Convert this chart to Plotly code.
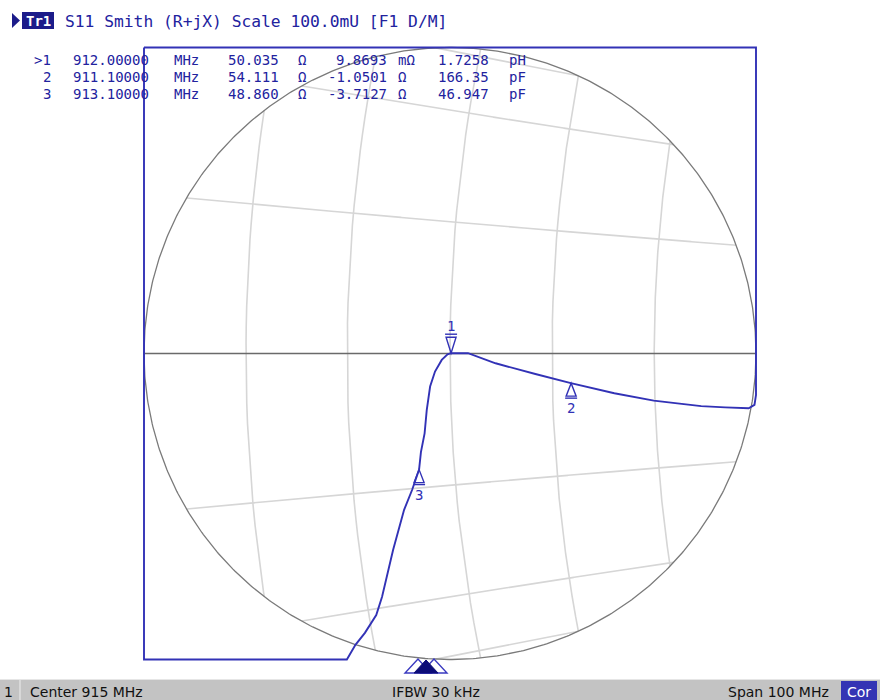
import numpy as np
import plotly.graph_objects as go

# ---------------- data ----------------
trace_re = [-0.30, 0.30, 0.26, 0.16, 0.112, 0.0995, 0.0976, 0.0899, 0.0821, 0.0743, 0.0666,
            0.0537, 0.0395, 0.0279, 0.0149, 0.0059, 0.0003, -0.0008, -0.0027, -0.0049,
            -0.0065, -0.0076, -0.0083, -0.0095, -0.0101, -0.0124, -0.0150, -0.0186,
            -0.0222, -0.0241, -0.0278, -0.0309, -0.0337, -0.15, -0.45, -0.45]
trace_im = [0.50, 0.45, 0.06, -0.004, -0.0135, -0.0168, -0.0179, -0.0176, -0.0172, -0.0163,
            -0.0154, -0.0130, -0.0097, -0.0067, -0.0032, 0.0001, 0.0001, -0.0003, -0.0021,
            -0.0059, -0.0108, -0.0185, -0.0261, -0.0322, -0.0379, -0.0446, -0.0511,
            -0.0642, -0.0795, -0.0855, -0.0913, -0.0952, -0.1007, -0.25, -0.20, 0.30]

# markers
marker_ids = [">1", "2", "3"]
marker_nums = ["1", "2", "3"]
marker_freq = ["912.00000", "911.10000", "913.10000"]
marker_R_txt = ["50.035", "54.111", "48.860"]
marker_X_txt = ["9.8693", "-1.0501", "-3.7127"]
marker_X_unit = ["mΩ", "Ω", "Ω"]
marker_LC_txt = ["1.7258", "166.35", "46.947"]
marker_LC_unit = ["pH", "pF", "pF"]
marker_R_ohm = [50.035, 54.111, 48.860]
marker_X_ohm = [0.0098693, -1.0501, -3.7127]
Z0 = 50.0

# smith grid (normalised resistance / reactance circles)
grid_r = [0.875, 0.935, 1.0, 1.069, 1.143]
grid_x = [0.086, 0.158, 0.196, -0.086, -0.158, -0.196]
scale_U = 0.1  # 100.0 mU full radius

header_text = "S11 Smith (R+jX) Scale 100.0mU [F1 D/M]"
status_texts = ["Center 915 MHz", "IFBW 30 kHz", "Span 100 MHz"]

# ---------------- geometry ----------------
W, H = 880, 700
PL, PR, PT, PB = 100, 800, 14, 693          # plot area in pixels
K = 3060.0                                   # pixels per unit of reflection coefficient
CXp, CYp = 450.0, 353.5
xr = [(PL - CXp) / K, (PR - CXp) / K]
yr = [(CYp - PB) / K, (CYp - PT) / K]

def pxx(px):
    return (px - PL) / (PR - PL)

def pxy(py):
    return (PB - py) / (PB - PT)

BLUE = "#3232b6"
TXT = "#22229e"
NAVY = "#1c1c8a"
MONO = "DejaVu Sans Mono"

fig = go.Figure()

# grid arcs
gx, gy = [], []
for r in grid_r:
    c, rad = r / (1 + r), 1 / (1 + r)
    th = np.linspace(np.pi - 0.3, np.pi + 0.3, 6000)
    x = c + rad * np.cos(th)
    y = rad * np.sin(th)
    m = x ** 2 + y ** 2 <= scale_U ** 2
    gx += list(x[m]) + [None]
    gy += list(y[m]) + [None]
for xv in grid_x:
    rad = 1 / abs(xv)
    th0 = np.arctan2(-1 / xv, -1)
    half = 0.3 / rad
    th = np.linspace(th0 - half, th0 + half, 6000)
    x = 1 + rad * np.cos(th)
    y = 1 / xv + rad * np.sin(th)
    m = x ** 2 + y ** 2 <= scale_U ** 2
    gx += list(x[m]) + [None]
    gy += list(y[m]) + [None]
fig.add_trace(go.Scatter(x=gx, y=gy, mode="lines", line=dict(color="#d6d6d6", width=1.6),
                         hoverinfo="skip", showlegend=False))

# outer circle and real axis
th = np.linspace(0, 2 * np.pi, 720)
fig.add_trace(go.Scatter(x=scale_U * np.cos(th), y=scale_U * np.sin(th), mode="lines",
                         line=dict(color="#7a7a7a", width=1.3), hoverinfo="skip", showlegend=False))
fig.add_trace(go.Scatter(x=[-scale_U, scale_U], y=[0, 0], mode="lines",
                         line=dict(color="#6a6a6a", width=1.3), hoverinfo="skip", showlegend=False))

# the trace, clamped to the display square as the instrument does
tre = np.clip(np.array(trace_re), -scale_U, scale_U)
tim = np.clip(np.array(trace_im), -scale_U, scale_U)
fig.add_trace(go.Scatter(x=tre, y=tim, mode="lines", line=dict(color=BLUE, width=1.9),
                         hoverinfo="skip", showlegend=False))

shapes = []
annotations = []

# markers
for i in range(3):
    z = complex(marker_R_ohm[i], marker_X_ohm[i])
    g = (z - Z0) / (z + Z0)
    if i == 0:
        tri = "M 0 0 L -5 16 L 5 16 Z"
        bar = "M -6 19 L 6 19"
        ysh = 27
    else:
        tri = "M 0 0 L -5 -13 L 5 -13 Z"
        bar = "M -6 -15 L 6 -15"
        ysh = -25
    for p in (tri, bar):
        shapes.append(dict(type="path", xref="x", yref="y", xsizemode="pixel", ysizemode="pixel",
                           xanchor=g.real, yanchor=g.imag, path=p,
                           line=dict(color=BLUE, width=1.4)))
    annotations.append(dict(x=g.real, y=g.imag, xref="x", yref="y", yshift=ysh, showarrow=False,
                            text=marker_nums[i], font=dict(family=MONO, size=14, color=BLUE),
                            xanchor="center", yanchor="middle"))

# marker table
row_y = [60.5, 77, 93.7]
def ann(px, py, text, anchor="left", size=14, color=TXT, family=MONO):
    annotations.append(dict(x=pxx(px), y=pxy(py), xref="paper", yref="paper", text=text,
                            showarrow=False, xanchor=anchor, yanchor="middle",
                            font=dict(family=family, size=size, color=color)))

for i in range(3):
    y = row_y[i]
    ann(53, y, marker_ids[i], "right")
    ann(71, y, marker_freq[i])
    ann(172, y, "MHz")
    ann(226, y, marker_R_txt[i])
    ann(296, y, "Ω")
    ann(389, y, marker_X_txt[i], "right")
    ann(396, y, marker_X_unit[i])
    ann(436, y, marker_LC_txt[i])
    ann(507, y, marker_LC_unit[i])

# header
shapes.append(dict(type="path", xref="paper", yref="paper",
                   path=f"M {pxx(12)} {pxy(13)} L {pxx(20)} {pxy(20.5)} L {pxx(12)} {pxy(28)} Z",
                   fillcolor=NAVY, line=dict(width=0)))
shapes.append(dict(type="rect", xref="paper", yref="paper", x0=pxx(22), x1=pxx(54),
                   y0=pxy(12), y1=pxy(29), fillcolor=NAVY, line=dict(width=0)))
ann(38, 21, "<b>Tr1</b>", "center", size=14, color="white")
ann(63, 21.5, header_text, size=16.3)

# stimulus indicator triangles at the bottom
def tri_path(ax, ay, hw, h):
    return f"M {pxx(ax)} {pxy(ay)} L {pxx(ax - hw)} {pxy(ay + h)} L {pxx(ax + hw)} {pxy(ay + h)} Z"
shapes.append(dict(type="path", xref="paper", yref="paper", path=tri_path(418, 659, 13, 14),
                   line=dict(color="#3a3ac0", width=1.4)))
shapes.append(dict(type="path", xref="paper", yref="paper", path=tri_path(434, 659, 13, 14),
                   line=dict(color="#3a3ac0", width=1.4)))
shapes.append(dict(type="path", xref="paper", yref="paper", path=tri_path(426, 660, 12, 13),
                   fillcolor="#0c0c78", line=dict(color="#0c0c78", width=1)))

# status bar
shapes.append(dict(type="rect", xref="paper", yref="paper", x0=pxx(0), x1=pxx(880),
                   y0=pxy(679), y1=pxy(701), fillcolor="#c3c3c3", line=dict(width=0), layer="above"))
shapes.append(dict(type="line", xref="paper", yref="paper", x0=pxx(0), x1=pxx(880),
                   y0=pxy(679.5), y1=pxy(679.5), line=dict(color="#e6e6e6", width=1), layer="above"))
shapes.append(dict(type="line", xref="paper", yref="paper", x0=pxx(20), x1=pxx(20),
                   y0=pxy(680), y1=pxy(700), line=dict(color="#eeeeee", width=1), layer="above"))
shapes.append(dict(type="rect", xref="paper", yref="paper", x0=pxx(841), x1=pxx(877),
                   y0=pxy(681), y1=pxy(700), fillcolor="#3434b4", line=dict(width=0), layer="above"))
ann(8, 691.5, "1", "center", size=14, color="#111111", family="DejaVu Sans")
ann(28, 691.5, status_texts[0], "left", size=14, color="#111111", family="DejaVu Sans")
ann(436, 691.5, status_texts[1], "center", size=14, color="#111111", family="DejaVu Sans")
ann(831, 691.5, status_texts[2], "right", size=14, color="#111111", family="DejaVu Sans")
ann(859, 691.5, "Cor", "center", size=14, color="white", family="DejaVu Sans")

fig.update_layout(
    width=W, height=H,
    margin=dict(l=PL, r=W - PR, t=PT, b=H - PB, pad=0),
    paper_bgcolor="white", plot_bgcolor="white",
    xaxis=dict(range=xr, visible=False, fixedrange=True),
    yaxis=dict(range=yr, visible=False, fixedrange=True),
    shapes=shapes, annotations=annotations, showlegend=False,
)

fig.write_html("out.html", config={"displayModeBar": False},
               post_script="document.body.style.margin='0';document.body.style.overflow='hidden';")
